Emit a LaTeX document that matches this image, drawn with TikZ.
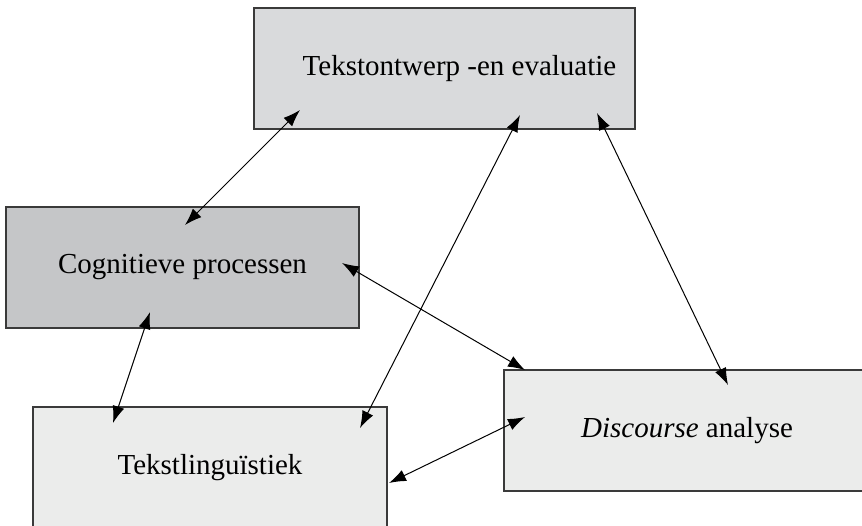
\documentclass[tikz,border=0pt]{standalone}
\usepackage{fontspec}
\setmainfont{Liberation Serif}
\usetikzlibrary{arrows.meta}
\definecolor{grijsA}{HTML}{D9DADC}
\definecolor{grijsB}{HTML}{C5C6C8}
\definecolor{grijsC}{HTML}{EBECEB}
\definecolor{rand}{HTML}{3A3A3A}
\tikzset{
 blok/.style={draw=rand, line width=0.8pt, inner sep=0pt, minimum height=60.5pt,
   font=\fontsize{14.5}{17}\selectfont},
 pijl/.style={{Latex[length=8.5pt,width=6pt]}-{Latex[length=8.5pt,width=6pt]}, line width=0.5pt}
}
\begin{document}
\begin{tikzpicture}[x=0.5pt,y=-0.5pt]
 \useasboundingbox (0,0) rectangle (862,525);
 % the four blocks
 \node[blok, fill=grijsA, minimum width=190.5pt] (ontwerp) at (444.5,68.5) {\hspace*{15pt}Tekstontwerp -en evaluatie};
 \node[blok, fill=grijsB, minimum width=176.5pt] (cogn) at (182.5,267.5) {Cognitieve processen};
 \node[blok, fill=grijsC, minimum width=177pt] (tekstling) at (210,467.5) {Tekstlinguïstiek};
 \node[blok, fill=grijsC, minimum width=183pt] (discours) at (687,430.5) {\emph{Discourse} analyse};
 % arrow ends inside the blocks
 \coordinate (o1) at (300,110); \coordinate (c1) at (185,225);
 \coordinate (o2) at (520,115); \coordinate (t1) at (360,428);
 \coordinate (o3) at (597,113); \coordinate (d1) at (728,385);
 \coordinate (c2) at (342,263); \coordinate (d2) at (525,370);
 \coordinate (c3) at (150,312); \coordinate (t2) at (113,423);
 \coordinate (d3) at (525,417); \coordinate (t3) at (389,483);
 \foreach \a/\b in {o1/c1,o2/t1,o3/d1,c2/d2,c3/t2,d3/t3}
  \draw[pijl] (\a) -- (\b);
\end{tikzpicture}
\end{document}
